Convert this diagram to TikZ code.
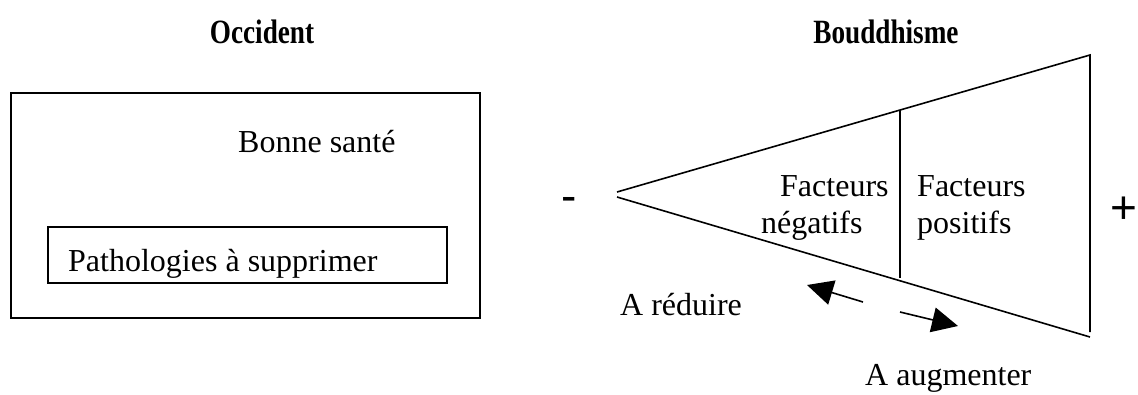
\documentclass[tikz,border=0pt]{standalone}
\usepackage{fontspec}
\setmainfont{Liberation Serif}
\newfontfamily\signfont{Liberation Sans}
\usetikzlibrary{arrows.meta}
\begin{document}
\begin{tikzpicture}[x=1bp,y=-1bp,
  line/.style={line width=1.6bp,black},
  box/.style={draw,line width=1.6bp,inner sep=0pt},
  txt/.style={inner sep=0pt,font=\fontsize{32bp}{37bp}\selectfont},
  ttl/.style={inner sep=0pt,font=\fontsize{34bp}{38bp}\selectfont\bfseries},
  sign/.style={inner sep=0pt,font=\fontsize{46bp}{50bp}\signfont},
  arr/.style={line width=1.6bp,-{Triangle[length=26bp,width=25bp]}}]
\useasboundingbox (0,0) rectangle (1138,394);
% titles
\node[ttl,anchor=base] (tocc) at (262,43) {\scalebox{0.8}[1]{Occident}};
\node[ttl,anchor=base] (tbou) at (886,43) {\scalebox{0.8}[1]{Bouddhisme}};
% left part
\node[box,minimum width=469bp,minimum height=225bp] (outer) at (245.5,205.5) {};
\node[box,minimum width=399bp,minimum height=56bp] (inner) at (247.5,255) {};
\node[txt,anchor=base west] (bonne) at (238,152) {Bonne santé};
\node[txt,anchor=base west] (patho) at (68,271) {Pathologies à supprimer};
% right part
\coordinate (apexU) at (617,192);
\coordinate (apexL) at (617,197);
\coordinate (topR) at (1090,55);
\coordinate (botR) at (1090,337);
\coordinate (vrB) at (1090,332);
\coordinate (midT) at (900,110);
\coordinate (midB) at (900,278);
\draw[line] (apexU) -- (topR) -- (vrB);
\draw[line] (apexL) -- (botR);
\draw[line] (midT) -- (midB);
\node[txt,anchor=base west] (fn1) at (780,196) {Facteurs};
\node[txt,anchor=base west] (fn2) at (761,233) {négatifs};
\node[txt,anchor=base west] (fp1) at (917,196) {Facteurs};
\node[txt,anchor=base west] (fp2) at (917,233) {positifs};
\node[sign] (minus) at (569,204) {-};
\node[sign] (plus) at (1124,210) {+};
% arrows
\coordinate (la1) at (863,302);
\coordinate (la2) at (807,285);
\coordinate (ra1) at (900,312);
\coordinate (ra2) at (958,326);
\draw[arr] (la1) -- (la2);
\draw[arr] (ra1) -- (ra2);
\node[txt,anchor=base west] (red) at (620,315) {A réduire};
\node[txt,anchor=base west] (aug) at (865,385) {A augmenter};
\end{tikzpicture}
\end{document}
